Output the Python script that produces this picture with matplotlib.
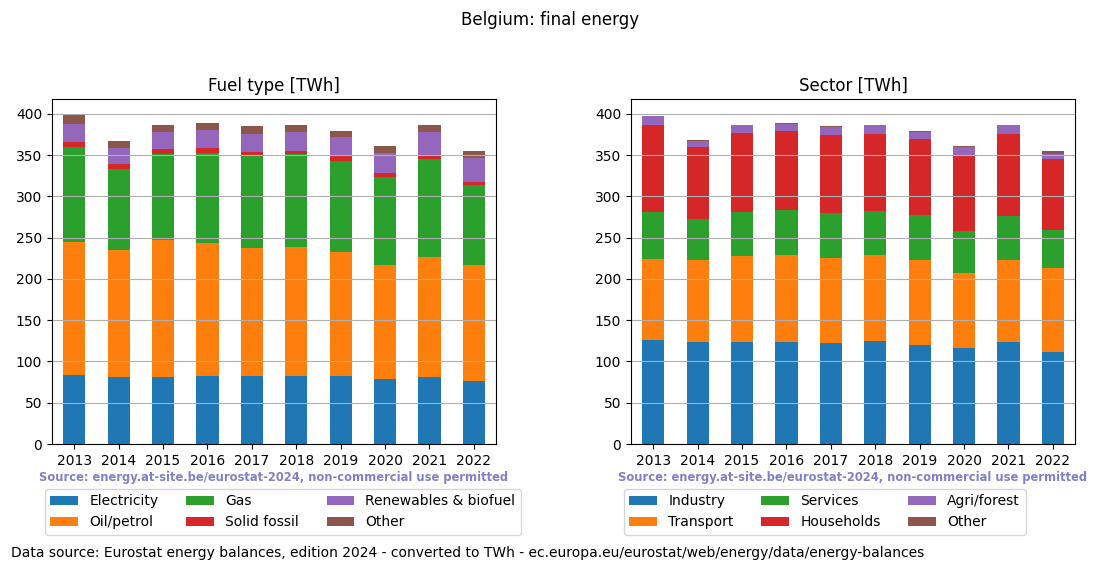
import numpy as np
import matplotlib
matplotlib.use("Agg")
import matplotlib.pyplot as plt

years = [2013, 2014, 2015, 2016, 2017, 2018, 2019, 2020, 2021, 2022]

# fuel type [TWh]
fuel_names = ["Electricity", "Oil/petrol", "Gas", "Solid fossil", "Renewables & biofuel", "Other"]
electricity = [83.5, 81.0, 81.0, 82.3, 82.3, 82.3, 82.3, 78.6, 81.0, 76.2]
oil = [160.9, 153.7, 165.8, 160.8, 154.8, 156.0, 150.0, 137.9, 145.2, 140.3]
gas = [114.9, 98.0, 104.0, 108.9, 111.7, 112.5, 110.0, 106.5, 118.6, 96.8]
solid = [6.0, 6.4, 6.1, 6.5, 4.4, 4.8, 6.5, 4.8, 4.8, 3.6]
renewables = [22.2, 19.4, 20.9, 22.5, 23.0, 23.0, 22.6, 24.2, 28.2, 29.5]
fuel_other = [10.9, 9.2, 8.5, 8.5, 8.5, 8.5, 8.4, 8.5, 9.3, 8.0]

# sector [TWh]
sector_names = ["Industry", "Transport", "Services", "Households", "Agri/forest", "Other"]
industry = [125.8, 123.4, 123.4, 123.4, 122.2, 124.6, 119.8, 116.1, 123.4, 111.3]
transport = [98.0, 99.2, 104.0, 105.2, 102.8, 104.0, 102.8, 90.8, 99.2, 101.6]
services = [56.8, 49.6, 53.2, 54.5, 54.4, 53.3, 54.4, 50.8, 53.2, 46.0]
households = [106.5, 87.1, 96.8, 96.7, 94.4, 94.3, 92.0, 92.7, 100.4, 85.9]
agri = [10.1, 8.4, 8.5, 8.5, 9.7, 9.7, 9.6, 8.9, 9.7, 6.8]
sector_other = [0.8, 0.4, 0.4, 1.2, 1.2, 1.2, 1.2, 1.2, 1.2, 2.8]

fuel_data = [electricity, oil, gas, solid, renewables, fuel_other]
sector_data = [industry, transport, services, households, agri, sector_other]

colors = ["#1f77b4", "#ff7f0e", "#2ca02c", "#d62728", "#9467bd", "#8c564b"]
source = "Source: energy.at-site.be/eurostat-2024, non-commercial use permitted"


def stacked(ax, series, names, title):
    x = np.arange(len(years))
    bottom = np.zeros(len(years))
    for vals, name, c in zip(series, names, colors):
        ax.bar(x, vals, 0.5, bottom=bottom, color=c, label=name)
        bottom += np.array(vals)
    ax.set_xticks(x)
    ax.set_xticklabels([str(y) for y in years])
    ax.set_xlim(-0.5, len(years) - 0.5)
    ax.set_ylim(0, 418)
    ax.grid(axis="y")
    ax.set_title(title, fontsize=12)
    ax.text(0.5, -0.096, source, transform=ax.transAxes, ha="center", va="center",
            fontsize=8.3, fontweight="bold", color="#8080c8")
    ax.legend(loc="upper left", bbox_to_anchor=(-0.032, -0.11), ncol=3, fontsize=10)


fig = plt.figure(figsize=(11, 5.72), dpi=100)
ax1 = fig.add_axes([52 / 1100, 1 - 444 / 572, 444 / 1100, 345 / 572])
ax2 = fig.add_axes([631 / 1100, 1 - 444 / 572, 444 / 1100, 345 / 572])

stacked(ax1, fuel_data, fuel_names, "Fuel type [TWh]")
stacked(ax2, sector_data, sector_names, "Sector [TWh]")

fig.suptitle("Belgium: final energy", fontsize=12, y=0.981)
fig.text(0.01, 0.033, "Data source: Eurostat energy balances, edition 2024 - converted to TWh - "
         "ec.europa.eu/eurostat/web/energy/data/energy-balances", fontsize=10, va="center")

fig.savefig("out.png", dpi=100)
